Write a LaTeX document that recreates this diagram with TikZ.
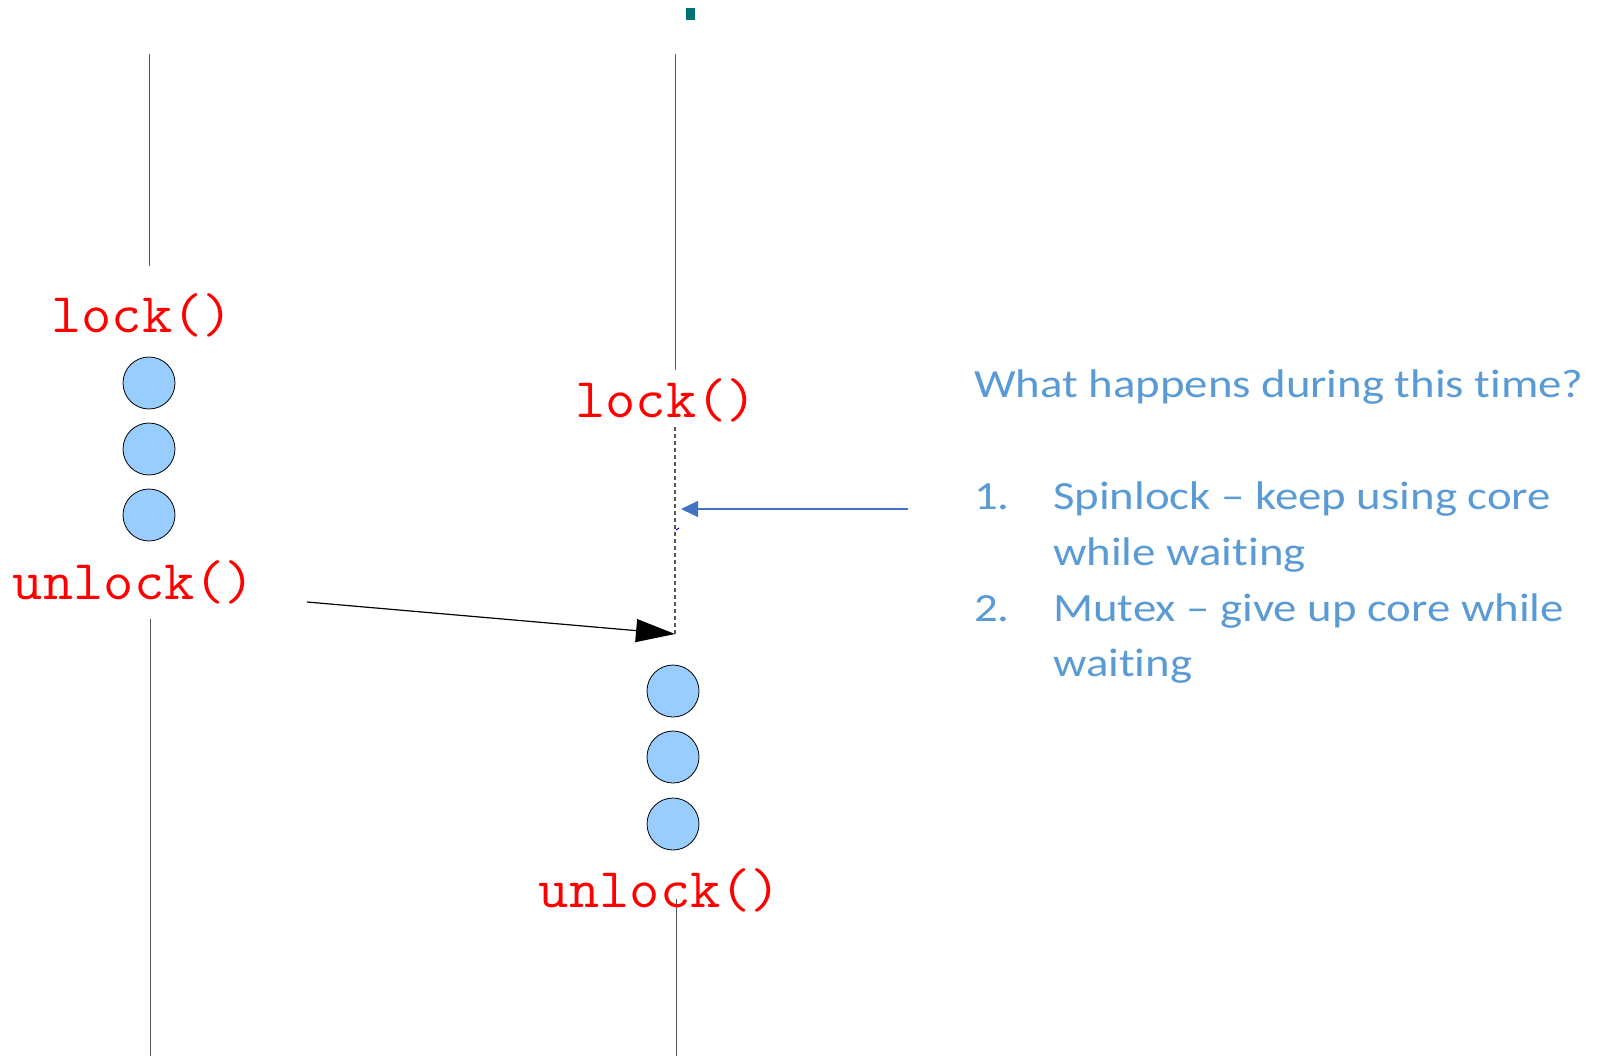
\documentclass[tikz,border=0pt]{standalone}
\usepackage{fontspec}
\usepackage{graphicx}
\newfontfamily\calib[Ligatures={NoCommon}]{Carlito}
\usetikzlibrary{arrows.meta}
\definecolor{lblue}{HTML}{99CCFF}
\definecolor{txtblue}{HTML}{5B9BD5}
\definecolor{arrblue}{HTML}{4472C4}
\definecolor{teal}{HTML}{007070}
\definecolor{lgray}{HTML}{555555}
\newcommand{\wide}[1]{\scalebox{1.17}[1]{#1}}
\newcommand{\cwide}[1]{\scalebox{1.05}[1]{#1}}
\tikzset{
  tline/.style={draw=lgray, line width=1pt},
  wline/.style={draw=lgray, line width=1.4pt, dash pattern=on 4pt off 3pt},
  dot/.style={circle, draw=black, line width=0.8pt, fill=lblue, minimum size=52pt, inner sep=0pt},
  code/.style={text=red, font=\fontsize{56}{56}\selectfont\ttfamily, inner sep=0pt, anchor=base},
  note/.style={text=txtblue, font=\fontsize{40}{40}\selectfont\calib, inner sep=0pt, anchor=base west},
}
\begin{document}
\begin{tikzpicture}[x=1pt, y=-1pt]
\useasboundingbox (0,0) rectangle (1603,1061);
% teal mark
\fill[teal] (686,8) rectangle (695,20);
% timeline coordinates
\coordinate (L1a) at (149,54);
\coordinate (L1b) at (149,266);
\coordinate (L2a) at (150,619);
\coordinate (L2b) at (150,1056);
\coordinate (R1a) at (675,54);
\coordinate (R1b) at (675,370);
\coordinate (Rwa) at (675,427);
\coordinate (Rwb) at (675,634);
\coordinate (R2a) at (676,899);
\coordinate (R2b) at (676,1056);
\draw[tline] (L1a) -- (L1b);
\draw[tline] (L2a) -- (L2b);
\draw[tline] (R1a) -- (R1b);
\draw[wline] (Rwa) -- (Rwb);
\draw[tline] (R2a) -- (R2b);
% code labels
\node[code] (lockL) at (142,332) {\cwide{lock()}};
\node[code] (unlockL) at (134,599) {\cwide{unlock()}};
\node[code] (lockR) at (666,417) {\cwide{lock()}};
\node[code] (unlockR) at (660,907) {\cwide{unlock()}};
% dots
\node[dot] (d1) at (149,383) {};
\node[dot] (d2) at (149,449) {};
\node[dot] (d3) at (149,515) {};
\node[dot] (e1) at (673,691) {};
\node[dot] (e2) at (673,757) {};
\node[dot] (e3) at (673,824) {};
% black arrow
\coordinate (bs) at (307,602);
\draw[line width=1.2pt, -{Triangle[length=39pt,width=23pt]}] (bs) -- (Rwb);
% blue arrow
\coordinate (qs) at (908,509);
\coordinate (qe) at (681,509);
\draw[arrblue, line width=1.2pt, -{Triangle[length=17pt,width=16pt]}] (qs) -- (qe);
\coordinate (tk1) at (676,530);
\coordinate (tk2) at (679,528);
\draw[blue, line width=1pt] (tk1) -- (tk2);
% notes
\node[note] (q) at (974,397) {\wide{What happens during this time?}};
\node[note] (n1) at (974,509) {\wide{1.}};
\node[note] (t1) at (1053,509) {\wide{Spinlock – keep using core}};
\node[note] (t1b) at (1053,565) {\wide{while waiting}};
\node[note] (n2) at (974,621) {\wide{2.}};
\node[note] (t2) at (1053,621) {\wide{Mutex – give up core while}};
\node[note] (t2b) at (1053,676) {\wide{waiting}};
\end{tikzpicture}
\end{document}
